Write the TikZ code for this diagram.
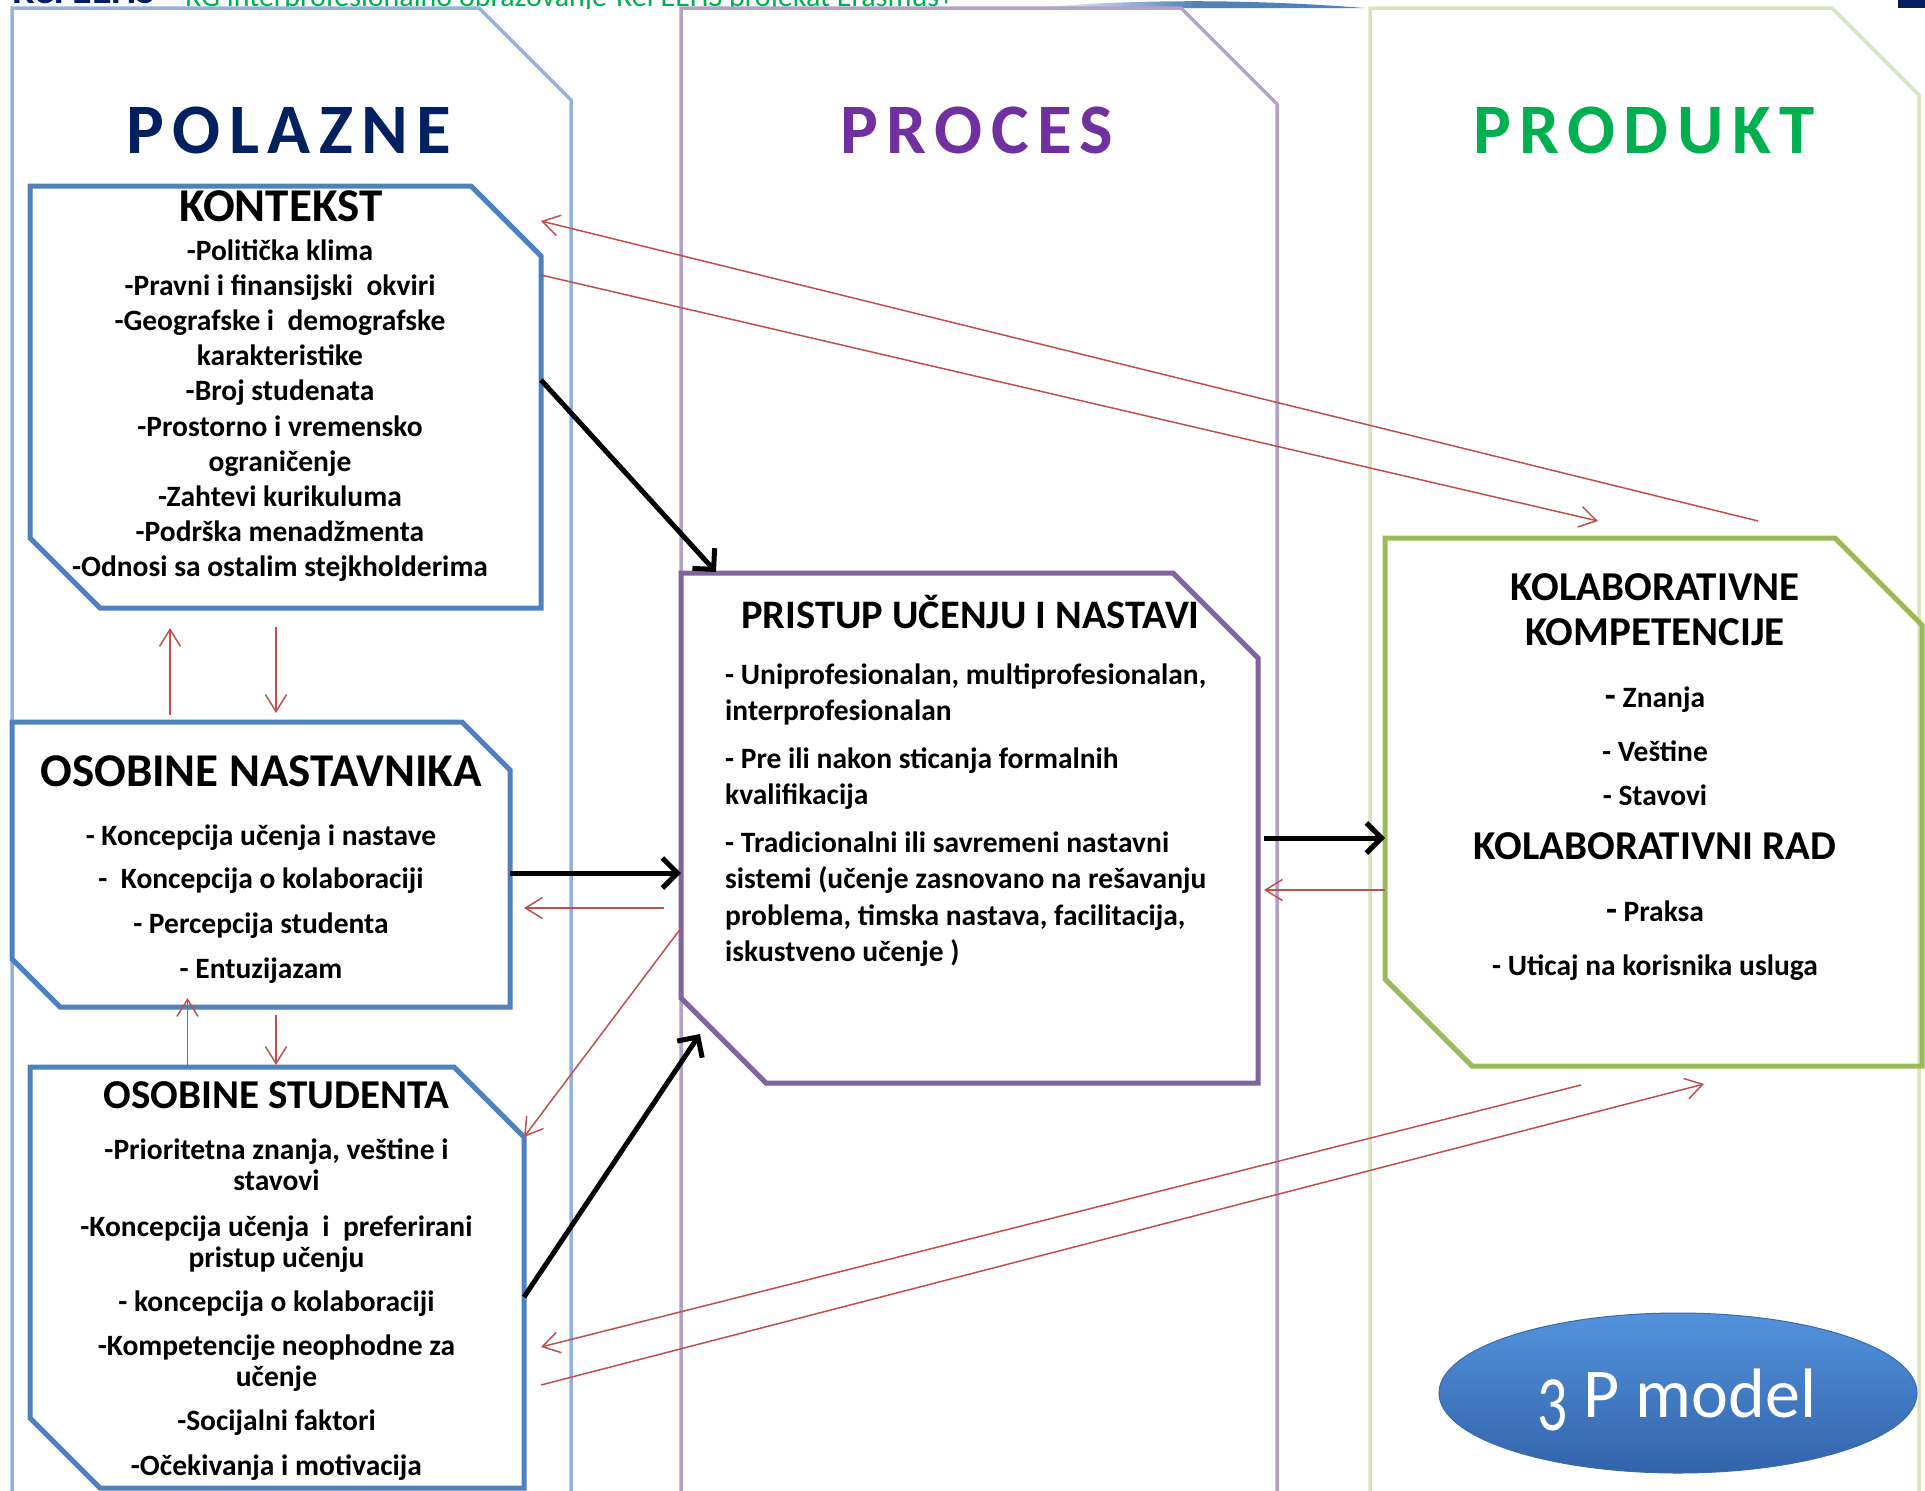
\documentclass[tikz,border=0pt]{standalone}
\usepackage{fontspec}
\setmainfont{Carlito}
\usetikzlibrary{arrows.meta,shapes.geometric}
\definecolor{colA}{HTML}{95B3D7}
\definecolor{colB}{HTML}{B3A2C7}
\definecolor{colC}{HTML}{D7E4BD}
\definecolor{bxA}{HTML}{4F81BD}
\definecolor{bxB}{HTML}{8064A2}
\definecolor{bxC}{HTML}{9BBB59}
\definecolor{redA}{HTML}{C0504D}
\definecolor{hdA}{HTML}{002060}
\definecolor{hdB}{HTML}{7030A0}
\definecolor{hdC}{HTML}{00B050}
\definecolor{ellTop}{HTML}{5393DC}
\definecolor{ellBot}{HTML}{3263AA}
\definecolor{ellLine}{HTML}{3A6AAE}
\newcommand\fs[1]{\fontsize{#1}{#1}\selectfont}
\newcommand\chamf[3]{\draw[#3] (#1.north west) -- ([xshift=-#2pt]#1.north east) -- ([yshift=-#2pt]#1.north east) -- (#1.south east) -- ([xshift=#2pt]#1.south west) -- ([yshift=#2pt]#1.south west) -- cycle;}
\begin{document}
\begin{tikzpicture}[x=1pt,y=-1pt,
  column/.style={line width=3.5pt,line join=miter},
  area/.style 2 args={inner sep=0pt,outer sep=0pt,minimum width=#1pt,minimum height=#2pt},
  boxline/.style={line width=5pt,line join=miter,draw=#1},
  hdr/.style={anchor=base,inner sep=0pt,font=\bfseries\fs{71}\addfontfeature{LetterSpace=12}},
  ttl/.style={anchor=base,inner sep=0pt,font=\bfseries\fs{#1}},
  itm/.style={anchor=base,inner sep=0pt,font=\bfseries\fs{29.5}},
  itl/.style={anchor=base west,inner sep=0pt,font=\bfseries\fs{29.5}},
  redarr/.style={draw=redA,line width=1.5pt,-{Straight Barb[length=17pt,width=21pt]}},
  blkarr/.style={draw=black,line width=5pt,-{Straight Barb[length=15pt,width=30pt]}}
]
\useasboundingbox (0,0) rectangle (1925,1491);
\fill[white] (0,0) rectangle (1925,1491);

% top strip remnants
\begin{scope}
\clip (0,0) rectangle (1925,8);
\node[anchor=base east,inner sep=0pt,text=hdA,font=\bfseries\fs{40}] (logo) at (156,4) {ReFEEHS};
\node[anchor=base west,inner sep=0pt,text=hdC,font=\fs{30}] (banner) at (185,6) {RG interprofesionalno obrazovanje-ReFEEHS projekat Erasmus+};
\shade[left color=white,right color=bxA,middle color=bxA] (1028,8) .. controls (1150,-2) and (1260,0) .. (1365,8) -- cycle;
\fill[hdA] (1898,0) rectangle (1925,8);
\end{scope}

% columns
\draw[column,draw=colA] (12,1495) -- (12,8) -- (479,8) -- (571,100) -- (571,1495);
\draw[column,draw=colB] (681,1495) -- (681,8) -- (1181,8) -- (1277,104) -- (1277,1495);
\draw[column,draw=colC] (1370,1495) -- (1370,8) -- (1832,8) -- (1919,95) -- (1919,1495);

% headers
\node[hdr,text=hdA] (hPol) at (289,153) {POLAZNE};
\node[hdr,text=hdB] (hPro) at (977,153) {PROCES};
\node[hdr,text=hdC] (hPrd) at (1644,153) {PRODUKT};

% box areas
\node[area={511}{422}] (K) at (285.5,397) {};
\node[area={498}{285}] (N) at (261,864.5) {};
\node[area={494}{421}] (S) at (277,1277.5) {};
\node[area={577}{510}] (P) at (969.5,828) {};
\node[area={537}{528}] (C) at (1653.5,802) {};

\chamf{K}{70}{boxline=bxA}
\chamf{N}{48}{boxline=bxA}
\chamf{S}{70}{boxline=bxA}
\chamf{P}{85}{boxline=bxB}
\chamf{C}{87}{boxline=bxC}

% KONTEKST
\node[ttl=47] (kT) at (281,221.7) {KONTEKST};
\node[itm] (k1) at (280,260) {-Politička klima};
\node[itm] (k2) at (280,295.2) {-Pravni i finansijski\ \ okviri};
\node[itm] (k3) at (280,330.4) {-Geografske i\ \ demografske};
\node[itm] (k4) at (280,365.6) {karakteristike};
\node[itm] (k5) at (280,400.8) {-Broj studenata};
\node[itm] (k6) at (280,436) {-Prostorno i vremensko};
\node[itm] (k7) at (280,471.2) {ograničenje};
\node[itm] (k8) at (280,506.4) {-Zahtevi kurikuluma};
\node[itm] (k9) at (280,541.6) {-Podrška menadžmenta};
\node[itm] (k10) at (280,576.8) {-Odnosi sa ostalim stejkholderima};

% OSOBINE NASTAVNIKA
\node[ttl=47] (nT) at (261,786.7) {OSOBINE NASTAVNIKA};
\node[itm] (n1) at (261,845) {- Koncepcija učenja i nastave};
\node[itm] (n2) at (261,888.3) {-\ \ Koncepcija o kolaboraciji};
\node[itm] (n3) at (261,933) {- Percepcija studenta};
\node[itm] (n4) at (261,978.3) {- Entuzijazam};

% OSOBINE STUDENTA
\node[ttl=41] (sT) at (276.5,1108.3) {OSOBINE STUDENTA};
\node[itm] (s1) at (276.5,1159.3) {-Prioritetna znanja, veštine i};
\node[itm] (s2) at (276.5,1190.7) {stavovi};
\node[itm] (s3) at (276.5,1236) {-Koncepcija učenja\ \ i\ \ preferirani};
\node[itm] (s4) at (276.5,1267.7) {pristup učenju};
\node[itm] (s5) at (276.5,1311.7) {- koncepcija o kolaboraciji};
\node[itm] (s6) at (276.5,1355) {-Kompetencije neophodne za};
\node[itm] (s7) at (276.5,1386.7) {učenje};
\node[itm] (s8) at (276.5,1430.7) {-Socijalni faktori};
\node[itm] (s9) at (276.5,1475) {-Očekivanja i motivacija};

% PRISTUP
\node[ttl=40.5] (pT) at (970.5,628.9) {PRISTUP UČENJU I NASTAVI};
\node[itl] (p1) at (725,684) {- Uniprofesionalan, multiprofesionalan,};
\node[itl] (p2) at (725,720) {interprofesionalan};
\node[itl] (p3) at (725,768.3) {- Pre ili nakon sticanja formalnih};
\node[itl] (p4) at (725,804.5) {kvalifikacija};
\node[itl] (p5) at (725,852.7) {- Tradicionalni ili savremeni nastavni};
\node[itl] (p6) at (725,888.9) {sistemi (učenje zasnovano na rešavanju};
\node[itl] (p7) at (725,925) {problema, timska nastava, facilitacija,};
\node[itl] (p8) at (725,961.2) {iskustveno učenje )};

% KOLABORATIVNE
\node[ttl=41] (cT1) at (1655,600.4) {KOLABORATIVNE};
\node[ttl=41] (cT2) at (1655,645) {KOMPETENCIJE};
\node[itm] (c1) at (1655,707.5) {{\fs{36}-} Znanja};
\node[itm] (c2) at (1655,761) {- Veštine};
\node[itm] (c3) at (1655,805.7) {- Stavovi};
\node[ttl=41] (cT3) at (1655,859.3) {KOLABORATIVNI RAD};
\node[itm] (c4) at (1655,921.8) {{\fs{36}-} Praksa};
\node[itm] (c5) at (1655,975.4) {- Uticaj na korisnika usluga};

% 3 P model
\node[ellipse,minimum width=478pt,minimum height=160pt,inner sep=0pt,top color=ellTop,bottom color=ellBot,draw=ellLine,line width=1pt] (model) at (1678,1393) {};
\node[anchor=base,inner sep=0pt,text=white,font=\fs{70}] (modelT) at (1677,1417) {\raisebox{-13pt}{\scalebox{0.85}[1.12]{3}} P model};

% named free ends
\coordinate (kpTip) at (716,572);
\coordinate (spTip) at (700,1034);
\coordinate (pcStart) at (1264,838);
\coordinate (aStart) at (1758,521);
\coordinate (bTip) at (1598,521);
\coordinate (cStart) at (664,908);
\coordinate (cTip) at (524,908);
\coordinate (eTip) at (1264,890);
\coordinate (fStart) at (1581,1085);
\coordinate (fTip) at (541,1347);
\coordinate (gStart) at (541,1385);
\coordinate (gTip) at (1704,1084);
\coordinate (v1s) at (170,715);
\coordinate (v1t) at (170,628);
\coordinate (v2s) at (276,627);
\coordinate (v2t) at (276,713);
\coordinate (v3s) at (187.5,1067);
\coordinate (v3t) at (187.5,998);
\coordinate (v4s) at (276,1015);
\coordinate (v4t) at (276,1065);

% black connectors
\draw[blkarr] (K.east |- 0,380) -- (kpTip);
\draw[blkarr] (N.east |- 0,873) -- (P.west |- 0,873);
\draw[blkarr] (S.east |- 0,1297) -- (spTip);
\draw[blkarr] (pcStart) -- (C.west |- 0,838);

% red connectors
\draw[redarr] (aStart) -- (K.east |- 0,221);
\draw[redarr] (K.east |- 0,275) -- (bTip);
\draw[redarr] (cStart) -- (cTip);
\draw[redarr] (P.west |- 0,928) -- (S.east |- 0,1137);
\draw[redarr] (C.west |- 0,890) -- (eTip);
\draw[redarr] (fStart) -- (fTip);
\draw[redarr] (gStart) -- (gTip);
\draw[redarr] (v1s) -- (v1t);
\draw[redarr] (v2s) -- (v2t);
\draw[redarr] (v3s) -- (v3t);
\draw[redarr] (v4s) -- (v4t);
\end{tikzpicture}
\end{document}
